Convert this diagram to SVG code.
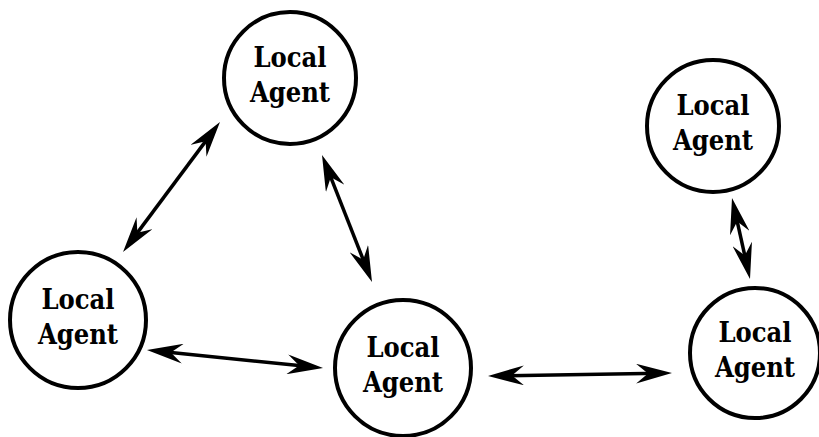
<svg xmlns="http://www.w3.org/2000/svg" width="819" height="437" viewBox="0 0 819 437">
<defs>
<marker id="ah" viewBox="0 0 36 20" refX="24" refY="10" markerWidth="36" markerHeight="20" markerUnits="userSpaceOnUse" orient="auto-start-reverse">
<path d="M36,10 L0,0 L12,10 L0,20 Z" fill="#000"/>
</marker>
<style>
.n{fill:#fff;stroke:#000;stroke-width:4}
.t{font-family:"DejaVu Serif","Liberation Serif",serif;font-size:27px;font-weight:bold;font-stretch:condensed;fill:#000;text-anchor:middle}
.c{stroke:#000;stroke-width:3.5;fill:none;marker-start:url(#ah);marker-end:url(#ah)}
</style>
</defs>
<rect width="819" height="437" fill="#fff"/>
<g id="connectors">
<line class="c" x1="130.2" y1="242.4" x2="212.8" y2="131.6"/>
<line class="c" x1="326.4" y1="166.2" x2="367.6" y2="270.8"/>
<line class="c" x1="734.6" y1="209.7" x2="747.4" y2="267.3"/>
<line class="c" x1="158.9" y1="351.2" x2="311.1" y2="366.8"/>
<line class="c" x1="500" y1="375.8" x2="660" y2="373.2"/>
</g>
<g id="n1"><circle class="n" cx="290" cy="78" r="66"/><text class="t" x="290" y="67">Local</text><text class="t" x="290" y="102">Agent</text></g>
<g id="n2"><circle class="n" cx="78" cy="320" r="68"/><text class="t" x="78" y="309">Local</text><text class="t" x="78" y="344">Agent</text></g>
<g id="n3"><circle class="n" cx="403" cy="368" r="68"/><text class="t" x="403" y="357">Local</text><text class="t" x="403" y="392">Agent</text></g>
<g id="n4"><circle class="n" cx="713" cy="126" r="66"/><text class="t" x="713" y="115">Local</text><text class="t" x="713" y="150">Agent</text></g>
<g id="n5"><circle class="n" cx="755" cy="353" r="65"/><text class="t" x="755" y="342">Local</text><text class="t" x="755" y="377">Agent</text></g>
</svg>
